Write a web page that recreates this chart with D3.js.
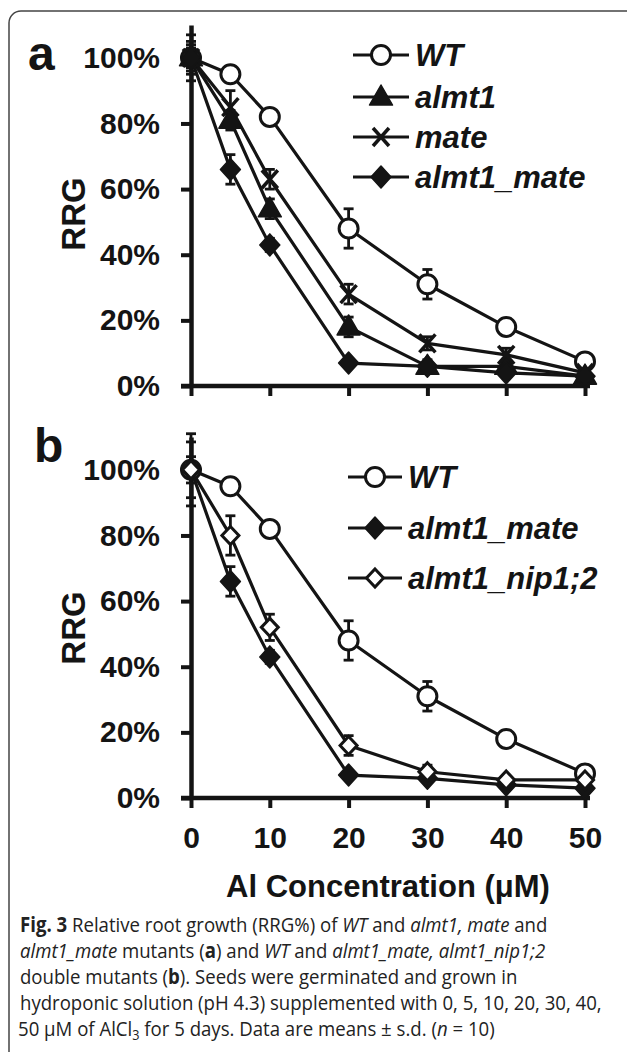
<!DOCTYPE html>
<html><head><meta charset="utf-8">
<script src="https://cdn.jsdelivr.net/npm/d3@7"></script>
<style>
html,body{margin:0;padding:0;background:#fff;}
svg{display:block;}
</style></head>
<body>
<svg id="chart" width="627" height="1052"></svg>
<script>
// ---------- data ----------
const concentrations = [0, 5, 10, 20, 30, 40, 50];
const xTickValues = [0, 10, 20, 30, 40, 50];
const yTickValues = [0, 20, 40, 60, 80, 100];

const wtValues       = [100, 95, 82, 48, 31, 18, 7.5];
const wtErrA         = [3, 2, 2, 6, 4.5, 2.5, 1.5];
const wtErrB         = [8.5, 2, 2, 6, 4.5, 2.5, 1.5];
const almt1Values    = [100, 81, 54, 18, 6, 6, 3];
const almt1Err       = [5, 3, 3, 3, 2, 1, 1];
const mateValues     = [100, 85, 63, 28, 13, 9.5, 4];
const mateErr        = [7, 5, 3, 3, 2, 2, 1];
const almt1MateValues= [100, 66, 43, 7, 6, 4, 3];
const almt1MateErr   = [4, 4.5, 2, 1, 1, 1, 1];
const nipValues      = [100, 80, 52, 16, 8, 5.5, 5.5];
const nipErr         = [11, 6, 4, 3, 2, 1, 1];

const panelALabels = ["WT", "almt1", "mate", "almt1_mate"];
const panelBLabels = ["WT", "almt1_mate", "almt1_nip1;2"];

// ---------- drawing ----------
const svg = d3.select("#chart");
const INK = "#141414";
const SANS = "'Liberation Sans', Arial, Helvetica, sans-serif";

svg.append("rect").attr("x", 9).attr("y", 11).attr("width", 640).attr("height", 1070)
  .attr("rx", 12).attr("fill", "none").attr("stroke", "#444").attr("stroke-width", 1.5);

const x = d3.scaleLinear().domain([0, 50]).range([191, 585]);

function markerPath(type) {
  switch (type) {
    case "triangle": return "M0,-12L11.5,8L-11.5,8Z";
    case "cross": return "M-8,-9L8,9M-8,9L8,-9";
    case "diamond": return "M0,-11L10,0L0,11L-10,0Z";
    case "odiamond": return "M0,-9L8.5,0L0,9L-8.5,0Z";
  }
}
function drawMarker(g, type, cx, cy) {
  if (type === "circle") {
    g.append("circle").attr("cx", cx).attr("cy", cy).attr("r", 9.5)
      .attr("fill", "#fff").attr("stroke", INK).attr("stroke-width", 3);
  } else if (type === "cross") {
    g.append("path").attr("d", markerPath(type)).attr("transform", `translate(${cx},${cy})`)
      .attr("fill", "none").attr("stroke", INK).attr("stroke-width", 3.5);
  } else if (type === "odiamond") {
    g.append("path").attr("d", markerPath(type)).attr("transform", `translate(${cx},${cy})`)
      .attr("fill", "#fff").attr("stroke", INK).attr("stroke-width", 3);
  } else {
    g.append("path").attr("d", markerPath(type)).attr("transform", `translate(${cx},${cy})`)
      .attr("fill", INK).attr("stroke", INK).attr("stroke-width", 1.5).attr("stroke-linejoin", "round");
  }
}

function styleBold(sel, size) {
  sel.attr("fill", INK).attr("font-family", SANS).attr("font-weight", "bold")
     .attr("font-size", size).style("font-family", SANS);
}

function drawPanel(opts) {
  const y = d3.scaleLinear().domain([0, 110]).range([opts.bottom, opts.bottom - 361]);
  const g = svg.append("g");

  const yAxis = d3.axisLeft(y).tickValues(yTickValues).tickSize(10).tickPadding(21)
    .tickSizeOuter(0).tickFormat(d => d + "%");
  const ya = g.append("g").attr("transform", `translate(${x(0)},0)`).call(yAxis);
  ya.select(".domain").attr("stroke", INK).attr("stroke-width", 4.5);
  ya.selectAll(".tick line").attr("stroke", INK).attr("stroke-width", 4);
  styleBold(ya.selectAll(".tick text"), 30);

  const xAxis = d3.axisBottom(x).tickValues(xTickValues).tickSize(10).tickPadding(19)
    .tickSizeOuter(0).tickFormat(opts.xLabels ? d3.format("d") : () => "");
  const xa = g.append("g").attr("transform", `translate(0,${y(0)})`).call(xAxis);
  xa.select(".domain").remove();
  xa.append("line").attr("x1", x(0) - 10).attr("x2", x(50) + 5).attr("y1", 0).attr("y2", 0)
    .attr("stroke", INK).attr("stroke-width", 4.5);
  xa.selectAll(".tick line").attr("stroke", INK).attr("stroke-width", 4);
  styleBold(xa.selectAll(".tick text"), 30);

  const line = d3.line().x((d, i) => x(concentrations[i])).y(d => y(d));
  opts.series.forEach(s => {
    g.append("path").datum(s.values).attr("d", line).attr("fill", "none")
      .attr("stroke", INK).attr("stroke-width", 3.2).attr("stroke-linejoin", "round");
  });
  opts.series.forEach(s => {
    s.values.forEach((v, i) => {
      const cx = x(concentrations[i]);
      const e = s.err[i];
      const eg = g.append("g").attr("stroke", INK).attr("stroke-width", 2.8);
      eg.append("line").attr("x1", cx).attr("x2", cx).attr("y1", y(v - e)).attr("y2", y(v + e));
      eg.append("line").attr("x1", cx - 5).attr("x2", cx + 5).attr("y1", y(v - e)).attr("y2", y(v - e));
      eg.append("line").attr("x1", cx - 5).attr("x2", cx + 5).attr("y1", y(v + e)).attr("y2", y(v + e));
    });
  });
  opts.series.forEach(s => {
    s.values.forEach((v, i) => drawMarker(g, s.marker, x(concentrations[i]), y(v)));
  });

  opts.series.forEach((s, i) => {
    const ly = opts.legY[i];
    g.append("line").attr("x1", opts.legX1).attr("x2", opts.legX2).attr("y1", ly).attr("y2", ly)
      .attr("stroke", INK).attr("stroke-width", 3.2);
    drawMarker(g, s.marker, (opts.legX1 + opts.legX2) / 2, ly);
    const t = g.append("text").attr("x", opts.legX2 + 6).attr("y", ly + 11).text(s.label);
    styleBold(t, 31);
    t.attr("font-style", "italic");
  });

  const r = g.append("text").attr("transform", `translate(85,${opts.rrgY}) rotate(-90)`)
    .attr("text-anchor", "middle").text("RRG");
  styleBold(r, 33);

  const p = g.append("text").attr("x", opts.letterX).attr("y", opts.letterY).text(opts.letter);
  styleBold(p, 48);
  return y;
}

drawPanel({
  bottom: 386, xLabels: false, letter: "a", letterX: 28, letterY: 70, rrgY: 214,
  legX1: 353, legX2: 409, legY: [55, 97, 137, 177],
  series: [
    { label: panelALabels[0], values: wtValues, err: wtErrA, marker: "circle" },
    { label: panelALabels[1], values: almt1Values, err: almt1Err, marker: "triangle" },
    { label: panelALabels[2], values: mateValues, err: mateErr, marker: "cross" },
    { label: panelALabels[3], values: almt1MateValues, err: almt1MateErr, marker: "diamond" }
  ]
});

drawPanel({
  bottom: 798, xLabels: true, letter: "b", letterX: 34, letterY: 462, rrgY: 628,
  legX1: 348, legX2: 402, legY: [477, 528, 578],
  series: [
    { label: panelBLabels[0], values: wtValues, err: wtErrB, marker: "circle" },
    { label: panelBLabels[1], values: almt1MateValues, err: almt1MateErr, marker: "diamond" },
    { label: panelBLabels[2], values: nipValues, err: nipErr, marker: "odiamond" }
  ]
});

const xt = svg.append("text").attr("x", 388).attr("y", 897).attr("text-anchor", "middle")
  .text("Al Concentration (μM)");
styleBold(xt, 31);

// caption (one common horizontal scale for all lines)
const captionLines = [
  { y: 932, x: 20, parts: [["Fig. 3", "b"], [" Relative root growth (RRG%) of ", ""], ["WT", "i"], [" and ", ""], ["almt1, mate", "i"], [" and", ""]] },
  { y: 958, x: 20, parts: [["almt1_mate", "i"], [" mutants (", ""], ["a", "b"], [") and ", ""], ["WT", "i"], [" and ", ""], ["almt1_mate, almt1_nip1;2", "i"]] },
  { y: 984, x: 20, parts: [["double mutants (", ""], ["b", "b"], ["). Seeds were germinated and grown in", ""]] },
  { y: 1010, x: 20, parts: [["hydroponic solution (pH 4.3) supplemented with 0, 5, 10, 20, 30, 40,", ""]] },
  { y: 1036, x: 18, parts: [["50 μM of AlCl", ""], ["3", "sub"], [" for 5 days. Data are means ± s.d. (", ""], ["n", "i"], [" = 10)", ""]] }
];
const capNodes = captionLines.map(l => {
  const t = svg.append("text").attr("x", 0).attr("y", 0)
    .attr("fill", "#222")
    .attr("font-family", "'Open Sans', 'Noto Sans', sans-serif").attr("font-size", 20.5);
  let afterSub = false;
  l.parts.forEach(([txt, st]) => {
    const ts = t.append("tspan").text(txt);
    if (afterSub) { ts.attr("dy", -4); afterSub = false; }
    if (st === "b") ts.attr("font-weight", "bold");
    if (st === "i") ts.attr("font-style", "italic");
    if (st === "sub") { ts.attr("font-size", 14).attr("dy", 4); afterSub = true; }
  });
  return t;
});
const sx = 582 / capNodes[3].node().getComputedTextLength();
capNodes.forEach((t, i) => {
  t.attr("transform", `translate(${captionLines[i].x},${captionLines[i].y}) scale(${sx},1)`);
});
</script>
</body></html>
